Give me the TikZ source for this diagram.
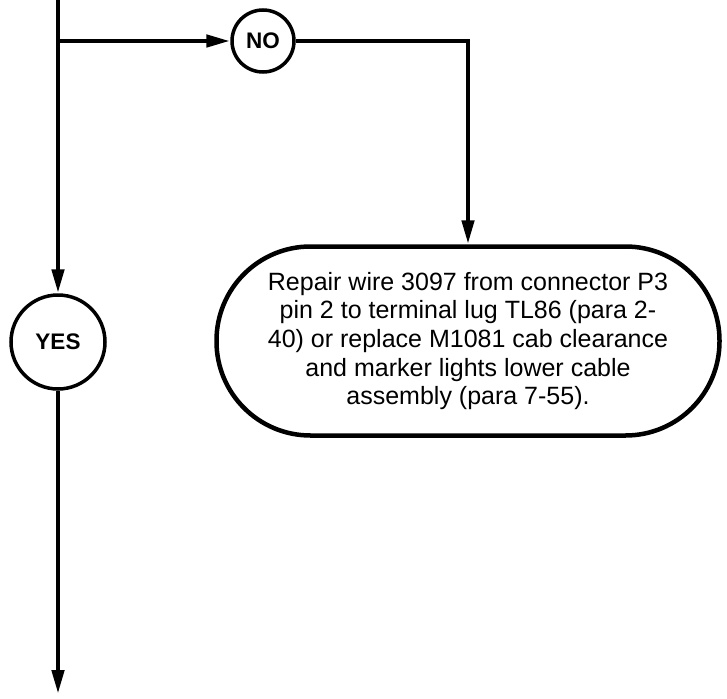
\documentclass[tikz,border=0pt]{standalone}
\usepackage{fontspec}
\setmainfont{Liberation Sans}
\usetikzlibrary{arrows.meta}
\tikzset{
  conn/.style={line width=4.5pt},
  arr/.style={conn,-{Triangle[length=24pt,width=12pt]}},
  answer/.style={circle,draw,line width=3.5pt,inner sep=0pt,font=\fontsize{22.5}{26}\selectfont\bfseries},
  stad/.style={draw,line width=4.5pt,rounded corners=94pt,minimum width=503pt,minimum height=189pt,
    align=center,inner sep=0pt,font=\fontsize{25}{28.7}\selectfont}
}
\begin{document}
\begin{tikzpicture}[x=1pt,y=-1pt]
\useasboundingbox (0,0) rectangle (727,698);
\coordinate (top) at (58,-2);
\coordinate (br) at (58,41);
\coordinate (bot) at (58,694);
\node[answer,minimum size=62pt] (no) at (263,41) {NO};
\node[answer,minimum size=94pt] (yes) at (58,342) {YES};
\node[stad] (act) at (468,341) {Repair wire 3097 from connector P3\\pin 2 to terminal lug TL86 (para 2-\\40) or replace M1081 cab clearance\\and marker lights lower cable\\assembly (para 7-55).};
\draw[arr] (top) -- (yes.north);
\draw[arr] (br) -- (no.west);
\draw[arr] (no.east) -| (act.north);
\draw[arr] (yes.south) -- (bot);
\end{tikzpicture}
\end{document}
